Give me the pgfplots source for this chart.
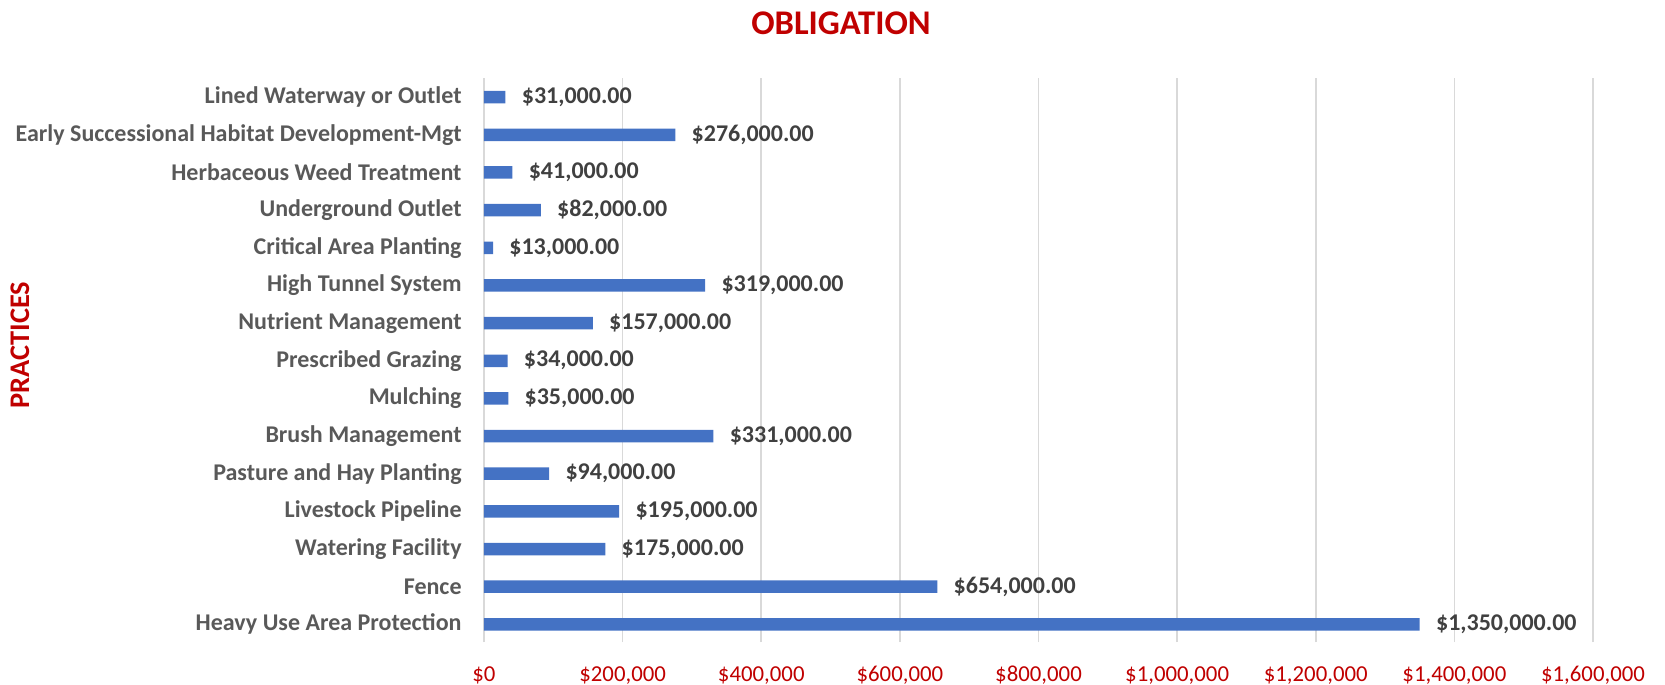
\documentclass[border=0pt]{standalone}
\usepackage{fontspec}
\setmainfont{Carlito}
\usepackage{pgfplots}
\pgfplotsset{compat=1.18}
\definecolor{barblue}{HTML}{4472C4}
\definecolor{gridgray}{HTML}{D9D9D9}
\definecolor{tickred}{HTML}{C00000}
\definecolor{catgray}{HTML}{595959}
\definecolor{labgray}{HTML}{404040}
\begin{document}
\begin{tikzpicture}
\begin{axis}[
  at={(0,0)}, anchor=south west,
  scale only axis, width=554.5pt, height=282pt,
  xbar, bar width=6.25pt,
  xmin=0, xmax=1600000, ymin=-0.47, ymax=14.51,
  xtick={0,200000,400000,600000,800000,1000000,1200000,1400000,1600000},
  xticklabels={{\$0},{\$200,000},{\$400,000},{\$600,000},{\$800,000},{\$1,000,000},{\$1,200,000},{\$1,400,000},{\$1,600,000}},
  ytick={0,1,2,3,4,5,6,7,8,9,10,11,12,13,14},
  yticklabels={Heavy Use Area Protection,Fence,Watering Facility,Livestock Pipeline,Pasture and Hay Planting,Brush Management,Mulching,Prescribed Grazing,Nutrient Management,High Tunnel System,Critical Area Planting,Underground Outlet,Herbaceous Weed Treatment,Early Successional Habitat Development-Mgt,Lined Waterway or Outlet},
  major tick length=0,
  axis line style={draw=none},
  xmajorgrids, grid style={color=gridgray, line width=0.8pt},
  xticklabel style={font=\fontsize{11.4}{13}\selectfont, text=tickred, anchor=base, inner sep=0pt, yshift=-19.5pt},
  yticklabel style={font=\fontsize{12}{14}\selectfont\bfseries, text=catgray, anchor=east, inner sep=0pt, xshift=-11pt},
  clip=false,
  scaled x ticks=false,
  /pgf/number format/assume math mode=true,
  point meta=explicit symbolic,
  nodes near coords,
  nodes near coords style={font=\fontsize{12}{14}\selectfont\bfseries, text=labgray, anchor=west, inner sep=0pt, xshift=8pt},
]
\addplot[fill=barblue, draw=none] coordinates {
  (1350000,0) [{\$1,350,000.00}]
  (654000,1) [{\$654,000.00}]
  (175000,2) [{\$175,000.00}]
  (195000,3) [{\$195,000.00}]
  (94000,4) [{\$94,000.00}]
  (331000,5) [{\$331,000.00}]
  (35000,6) [{\$35,000.00}]
  (34000,7) [{\$34,000.00}]
  (157000,8) [{\$157,000.00}]
  (319000,9) [{\$319,000.00}]
  (13000,10) [{\$13,000.00}]
  (82000,11) [{\$82,000.00}]
  (41000,12) [{\$41,000.00}]
  (276000,13) [{\$276,000.00}]
  (31000,14) [{\$31,000.00}]
};
\end{axis}
\node[anchor=base, font=\fontsize{17.3}{20}\selectfont\bfseries, text=tickred, inner sep=0pt] at (178.5pt,303.5pt) {OBLIGATION};
\node[rotate=90, anchor=center, font=\fontsize{14.2}{17}\selectfont\bfseries, text=tickred, inner sep=0pt] at (-232pt,148.5pt) {PRACTICES};
\pgfresetboundingbox
\path[use as bounding box] (-242pt,-21.5pt) rectangle (590.5pt,321pt);
\end{tikzpicture}
\end{document}
